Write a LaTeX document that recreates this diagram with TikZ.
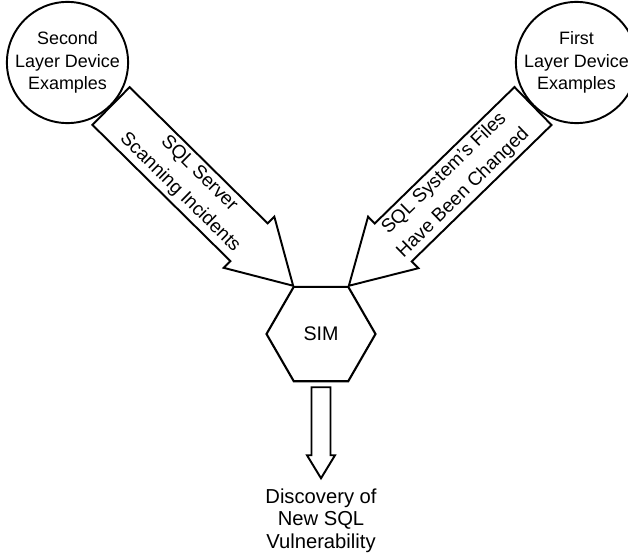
\documentclass[tikz,border=0pt]{standalone}
\usepackage{fontspec}
\setmainfont{Liberation Sans}
\usetikzlibrary{shapes.geometric,positioning,calc}

\tikzset{
  device/.style={draw, circle, line width=1.1pt, minimum size=2.2cm, inner sep=0pt, align=center, font=\fontsize{10.2}{12.8}\selectfont},
  hexnode/.style={draw, regular polygon, regular polygon sides=6, minimum size=2.18cm, line width=1.2pt, inner sep=0pt, font=\fontsize{11.2}{13}\selectfont},
  arrowline/.style={draw, fill=white, line width=1.1pt, line join=miter},
  arrowtext/.style={align=center, font=\fontsize{10.8}{15.4}\selectfont},
  result/.style={align=center, font=\fontsize{11.5}{12.8}\selectfont}
}

% hollow block arrow: from, to, half shaft, half head, head length
\newcommand{\blockarrow}[5]{%
  \coordinate (base) at ($(#2)!#5!(#1)$);
  \draw[arrowline] ($(#1)!#3!90:(#2)$) -- ($(base)!#3!-90:(#1)$) -- ($(base)!#4!-90:(#1)$)
    -- (#2) -- ($(base)!#4!90:(#1)$) -- ($(base)!#3!90:(#1)$) -- ($(#1)!#3!-90:(#2)$) -- cycle;
}

\begin{document}
\begin{tikzpicture}
	\useasboundingbox (0,0) rectangle (12.56,-11.08);
	
	\node[hexnode] (sim) at (6.42,-6.68) {SIM};
	\node[device] (second) at (1.35,-1.25) {Second\\Layer Device\\Examples};
	\node[device] (first) at (11.53,-1.25) {First\\Layer Device\\Examples};
	\node[result, below=2cm of sim] (disc) {Discovery of\\New SQL\\Vulnerability};
	
	% incoming events
	\blockarrow{second.south east}{sim.120}{0.53cm}{0.72cm}{1.24cm}
	\path (second.south east) -- (sim.120) node[arrowtext, sloped, pos=.43] {SQL Server\\Scanning Incidents};
	
	\blockarrow{first.south west}{sim.60}{0.53cm}{0.72cm}{1.24cm}
	\path (first.south west) -- (sim.60) node[arrowtext, sloped, pos=.43] {SQL System's Files\\Have Been Changed};
	
	% result
	\coordinate[below=0.1cm of sim] (outtop);
	\coordinate[above=0.08cm of disc] (outtip);
	\blockarrow{outtop}{outtip}{0.19cm}{0.28cm}{0.46cm}
\end{tikzpicture}
\end{document}
